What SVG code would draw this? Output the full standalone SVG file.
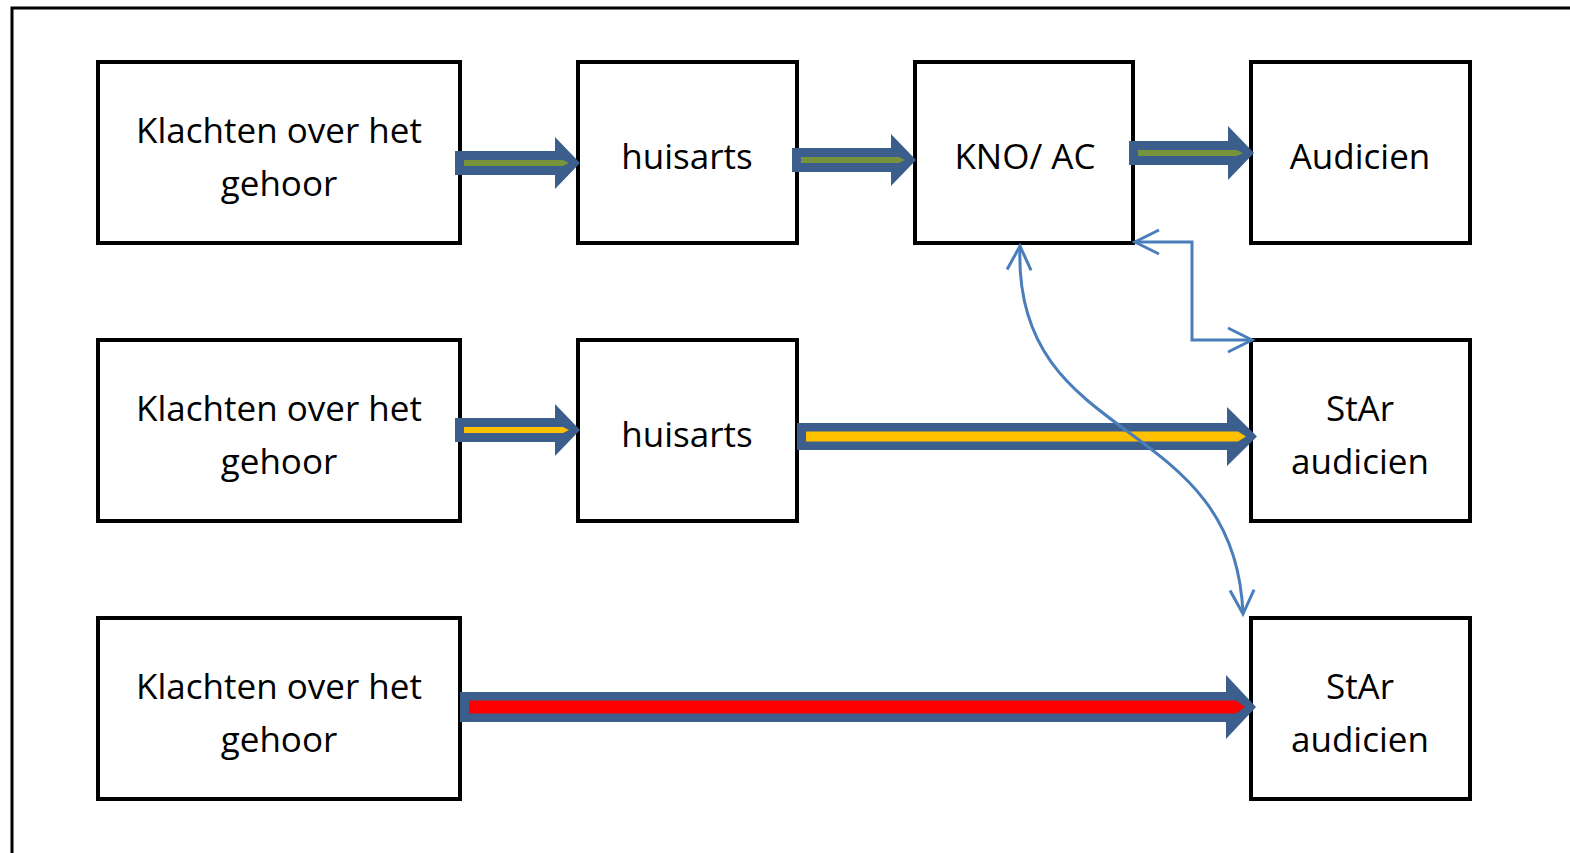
<svg xmlns="http://www.w3.org/2000/svg" width="1570" height="853" viewBox="0 0 1570 853">
<defs>
<style>
.box{fill:#fff;stroke:#000;stroke-width:4}
.t{font-family:"Open Sans","Liberation Sans",sans-serif;font-size:35px;fill:#000;text-anchor:middle}
.bo{fill:#3B5E8C}
.g{fill:#77933C}
.y{fill:#FFC000}
.r{fill:#FF0000}
.con{fill:none;stroke:#4A7EBB;stroke-width:3}
</style>
<marker id="oa" markerUnits="userSpaceOnUse" markerWidth="40" markerHeight="40" viewBox="-30 -20 40 40" refX="0" refY="0" orient="auto-start-reverse" overflow="visible">
<polyline points="-24,-12 0,0 -24,12" fill="none" stroke="#4A7EBB" stroke-width="3"/>
</marker>
</defs>
<rect width="1570" height="853" fill="#fff"/>
<path d="M12,853 V8 H1570" fill="none" stroke="#000" stroke-width="3"/>

<g id="n1"><rect class="box" x="98" y="62" width="362" height="181"/><text class="t" x="279" y="143">Klachten over het</text><text class="t" x="279" y="196">gehoor</text></g>
<g id="n2"><rect class="box" x="578" y="62" width="219" height="181"/><text class="t" x="687" y="169">huisarts</text></g>
<g id="n3"><rect class="box" x="915" y="62" width="218" height="181"/><text class="t" x="1025" y="169">KNO/ AC</text></g>
<g id="n4"><rect class="box" x="1251" y="62" width="219" height="181"/><text class="t" x="1360" y="169">Audicien</text></g>

<g id="n5"><rect class="box" x="98" y="340" width="362" height="181"/><text class="t" x="279" y="421">Klachten over het</text><text class="t" x="279" y="474">gehoor</text></g>
<g id="n6"><rect class="box" x="578" y="340" width="219" height="181"/><text class="t" x="687" y="447">huisarts</text></g>
<g id="n7"><rect class="box" x="1251" y="340" width="219" height="181"/><text class="t" x="1360" y="421">StAr</text><text class="t" x="1360" y="474">audicien</text></g>

<g id="n8"><rect class="box" x="98" y="618" width="362" height="181"/><text class="t" x="279" y="699">Klachten over het</text><text class="t" x="279" y="752">gehoor</text></g>
<g id="n9"><rect class="box" x="1251" y="618" width="219" height="181"/><text class="t" x="1360" y="699">StAr</text><text class="t" x="1360" y="752">audicien</text></g>

<g id="connectors">
<polygon class="bo" points="455,151 555,151 555,137 580,163 555,189 555,175 455,175"/>
<polygon class="g" points="464,160 563,160 569,163 563,166 464,166"/>
<polygon class="bo" points="792,148 891,148 891,134 916,160 891,186 891,172 792,172"/>
<polygon class="g" points="801,157 899,157 905,160 899,163 801,163"/>
<polygon class="bo" points="1129,141 1228,141 1228,126 1254,153 1228,180 1228,165 1129,165"/>
<polygon class="g" points="1138,150 1237,150 1243,153 1237,156 1138,156"/>
<polygon class="bo" points="455,418 555,418 555,404 580,430 555,456 555,442 455,442"/>
<polygon class="y" points="464,427 563,427 569,430 563,433 464,433"/>
<polygon class="bo" points="797,423 1227,423 1227,407 1257,436.5 1227,466 1227,450 797,450"/>
<polygon class="y" points="806,431.5 1238,431.5 1246,436.5 1238,441.5 806,441.5"/>
<polygon class="bo" points="460,692 1226,692 1226,675 1256,707 1226,739 1226,722 460,722"/>
<polygon class="r" points="469,700.5 1236,700.5 1245,707 1236,713.5 469,713.5"/>
<path class="con" d="M1135,242 H1192 V340 H1252" marker-start="url(#oa)" marker-end="url(#oa)"/>
<path class="con" d="M1020,246 C1012,450 1235,410 1243,614" marker-start="url(#oa)" marker-end="url(#oa)"/>
</g>
</svg>
